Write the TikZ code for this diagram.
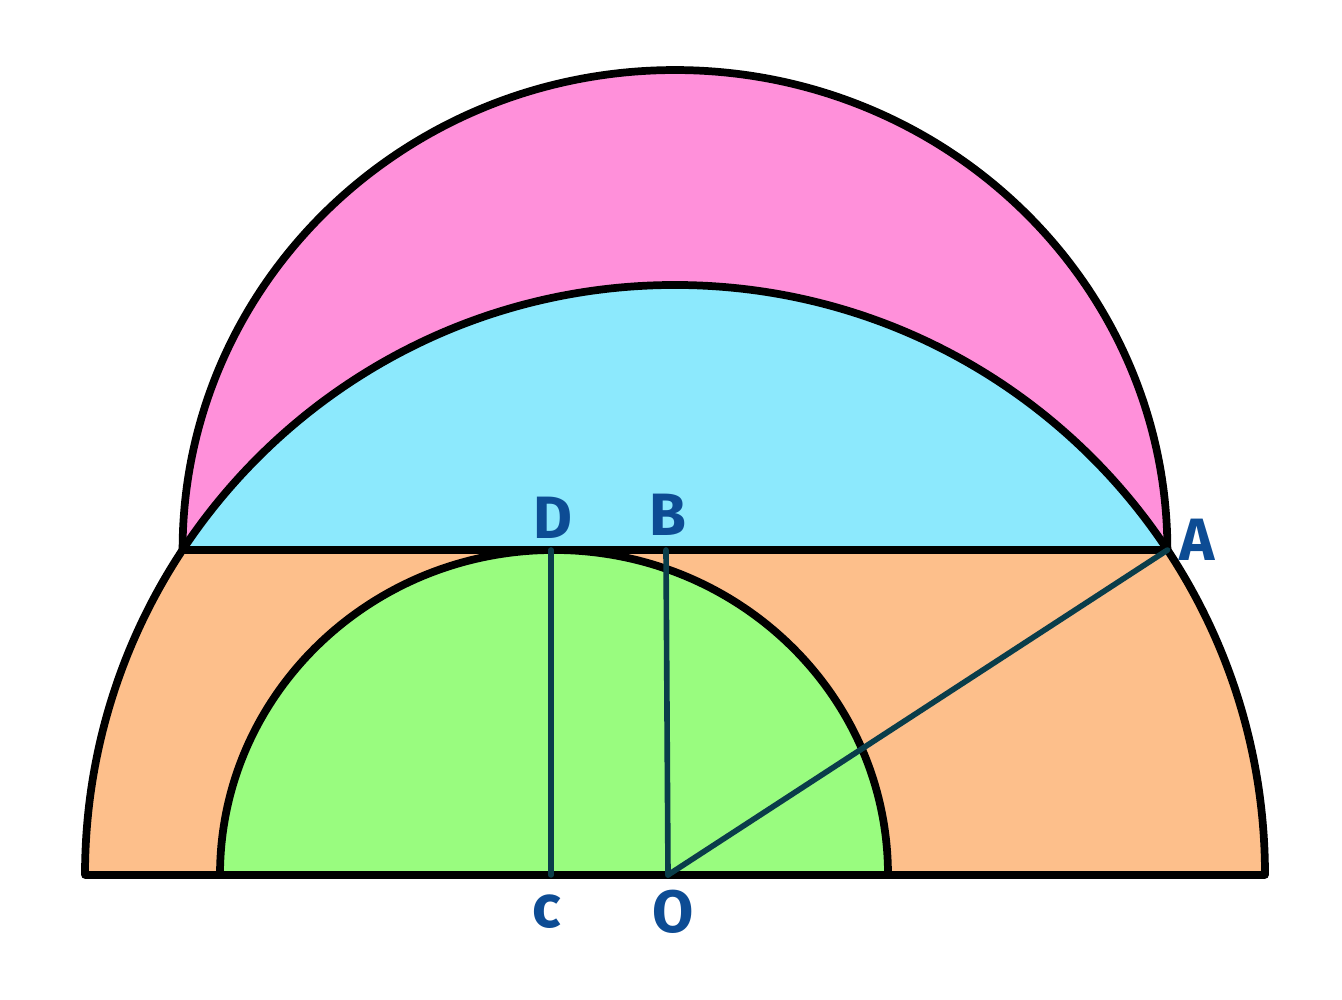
\documentclass[tikz,border=0pt]{standalone}
\usepackage{fontspec}
\setsansfont{Fira Sans}
\usetikzlibrary{calc}
\definecolor{pinkc}{HTML}{FF90DA}
\definecolor{bluec}{HTML}{8CE9FD}
\definecolor{orangec}{HTML}{FDBF8B}
\definecolor{greenc}{HTML}{99FC7F}
\definecolor{segc}{HTML}{0A3D4A}
\definecolor{labc}{HTML}{0D4C94}
\begin{document}
\begin{tikzpicture}[
  outline/.style={draw=black,line width=2.2pt,line join=round,line cap=round},
  seg/.style={draw=segc,line width=1.6pt,line cap=round},
  lab/.style={text=labc,font=\fontsize{17}{17}\sffamily\bfseries,inner sep=0pt}]
\useasboundingbox (0,0) rectangle (13.42,10);
\def\R{5.9}
\coordinate (Z) at (6.75,1.25);  % centre of the big circle
\coordinate (O) at (6.68,1.25);
\coordinate (C) at (5.51,1.25);
\coordinate (G) at (5.54,1.25);  % centre of the green half
\coordinate (D) at (5.51,4.5);
\coordinate (B) at (6.66,4.5);
\coordinate (L) at ($(Z)+(146.58:\R)$);
\coordinate (A) at ($(Z)+(33.42:\R)$);
% fills
\fill[orangec] ($(Z)+(-\R,0)$) arc[start angle=180,end angle=146.58,radius=\R] -- (A) arc[start angle=33.42,end angle=0,radius=\R] -- cycle;
\fill[pinkc] (L) arc[start angle=180,end angle=0,x radius=4.924,y radius=4.8] -- cycle;
\fill[bluec] (L) arc[start angle=146.58,end angle=33.42,radius=\R] -- cycle;
\fill[greenc] ($(G)+(-3.34,0)$) arc[start angle=180,end angle=0,x radius=3.34,y radius=3.25] -- cycle;
% outlines
\draw[outline] ($(Z)+(-\R,0)$) arc[start angle=180,end angle=0,radius=\R] -- cycle;
\draw[outline] (L) arc[start angle=180,end angle=0,x radius=4.924,y radius=4.8];
\draw[outline] (L) -- (A);
\draw[outline] ($(G)+(-3.34,0)$) arc[start angle=180,end angle=0,x radius=3.34,y radius=3.25];
% segments
\draw[seg] (C) -- (D);
\draw[seg] (O) -- (B);
\draw[seg] (O) -- (A);
% labels
\node[lab] (lD) at (5.53,4.82) {D};
\node[lab] (lB) at (6.68,4.85) {B};
\node[lab] (lA) at (11.97,4.6) {A};
\node[lab] (lC) at (5.47,0.88) {c};
\node[lab] (lO) at (6.73,0.88) {O};
\end{tikzpicture}
\end{document}
